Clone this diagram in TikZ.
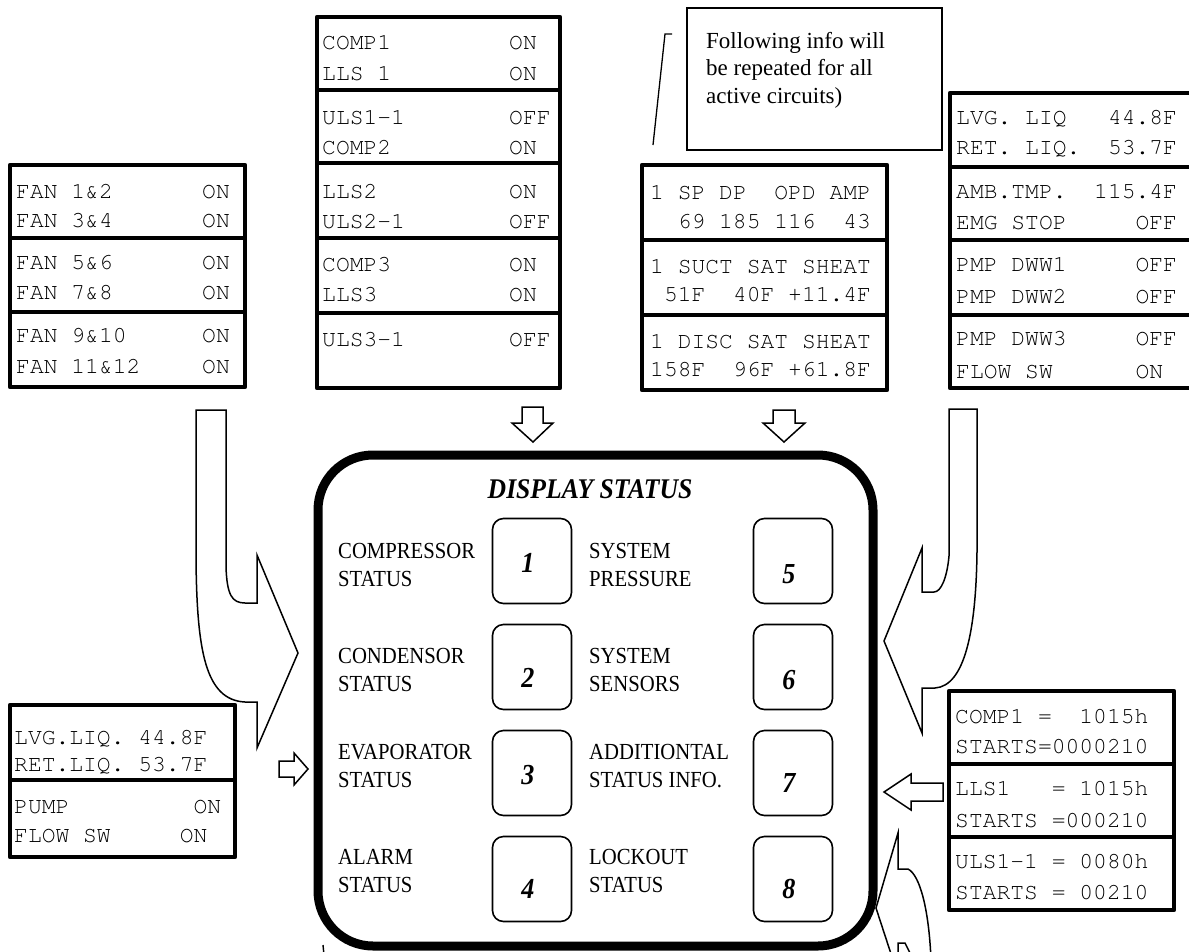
\documentclass[tikz,border=0pt]{standalone}
\usepackage[T1]{fontenc}
\usepackage{fontspec}
\setmainfont{Liberation Serif}
\newfontfamily\keyfont[FakeStretch=0.9]{Liberation Serif}
\newcommand\lcd{\fontencoding{T1}\fontfamily{pcr}\fontsize{23}{28}\selectfont}
\usetikzlibrary{positioning}
\frenchspacing

\tikzset{
  panel/.style={line width=4.5pt, line join=round},
  lcd/.style={anchor=west, inner sep=0pt, text height=13pt, text depth=0pt, font=\lcd},
  keylabel/.style={anchor=west, inner sep=0pt, align=left, font=\keyfont\fontsize{23}{28}\selectfont},
  keybox/.style={draw, line width=1.6pt, rounded corners=11pt, minimum width=79pt, minimum height=85pt, inner sep=0pt},
  keynum/.style={inner sep=0pt, font=\keyfont\bfseries\itshape\fontsize{29}{29}\selectfont},
  hollow/.style={draw, line width=1.5pt, fill=white, line join=miter},
}

\begin{document}
\begin{tikzpicture}[x=1pt, y=-1pt]
  \useasboundingbox (0,0) rectangle (1189,951);
  \clip (0,0) rectangle (1189,951);

  % fan panel
  \draw[panel] (10,165) rectangle (245,387);
  \foreach \y in {238,312} \draw[panel] (10,\y) -- (245,\y);
  \foreach \y/\lab/\st [count=\i] in {192/FAN 1\&2/ON, 221/FAN 3\&4/ON,
      263/FAN 5\&6/ON, 293/FAN 7\&8/ON, 336/FAN 9\&10/ON, 367/FAN 11\&12/ON}{
    \node[lcd] (fan\i) at (16,\y) {\lab};
    \node[lcd] (fanst\i) at (202,\y) {\st};
  }

  % compressor panel
  \draw[panel] (317,17) rectangle (560,388);
  \foreach \y in {90,163,238,313} \draw[panel] (317,\y) -- (560,\y);
  \foreach \y/\lab/\st [count=\i] in {43/COMP1/ON, 74/LLS~1/ON, 118/ULS1-1/OFF,
      148/COMP2/ON, 192/LLS2/ON, 222/ULS2-1/OFF, 265/COMP3/ON, 295/LLS3/ON,
      340/ULS3-1/OFF}{
    \node[lcd] (comp\i) at (322,\y) {\lab};
    \node[lcd] (compst\i) at (509,\y) {\st};
  }

  % note
  \draw[line width=1.2pt] (687,8) rectangle (942,150);
  \node[anchor=north west, align=left, inner sep=0pt, font=\fontsize{23}{27.5}\selectfont]
    (note) at (706,32) {Following info will\\be repeated for all\\active circuits)};
  \draw[line width=1.3pt] (672,34) -- (665,34) -- (653,145);

  % pressure panel
  \draw[panel] (642,165) rectangle (887,390);
  \foreach \y in {240,315} \draw[panel] (642,\y) -- (887,\y);
  \foreach \y/\lab [count=\i] in {193/1~SP~DP~~OPD~AMP, 222/~~69~185~116~~43,
      267/1~SUCT~SAT~SHEAT, 295/~51F~~40F~+11.4F,
      342/1~DISC~SAT~SHEAT, 370/158F~~96F~+61.8F}
    \node[lcd] (press\i) at (650,\y) {\lab};

  % sensor panel
  \draw[panel] (950,93) rectangle (1200,388);
  \foreach \y in {167,240,315} \draw[panel] (950,\y) -- (1200,\y);
  \foreach \y/\lab [count=\i] in {118/LVG.~LIQ~~~44.8F, 148/RET.~LIQ.~~53.7F,
      192/AMB.TMP.~~115.4F, 223/EMG~STOP~~~~~OFF, 265/PMP~DWW1~~~~~OFF,
      297/PMP~DWW2~~~~~OFF, 339/PMP~DWW3~~~~~OFF, 372/FLOW~SW~~~~~~ON}
    \node[lcd] (sens\i) at (956,\y) {\lab};

  % evaporator panel
  \draw[panel] (10,705) rectangle (235,857);
  \draw[panel] (10,780) -- (235,780);
  \foreach \y/\lab [count=\i] in {738/LVG.LIQ.~44.8F, 765/RET.LIQ.~53.7F,
      807/PUMP~~~~~~~~~ON, 836/FLOW~SW~~~~~ON}
    \node[lcd] (evap\i) at (14,\y) {\lab};

  % run hours panel
  \draw[panel] (949,691) rectangle (1174,910);
  \foreach \y in {764,837} \draw[panel] (949,\y) -- (1174,\y);
  \foreach \y/\lab [count=\i] in {717/COMP1~=~~1015h, 747/STARTS=0000210,
      789/LLS1~~~=~1015h, 821/STARTS~=000210, 862/ULS1-1~=~0080h, 893/STARTS~=~00210}
    \node[lcd] (hrs\i) at (955,\y) {\lab};

  % display status
  \draw[line width=9pt, rounded corners=55pt] (318,455) rectangle (873,946);
  \node[inner sep=0pt, font=\keyfont\bfseries\itshape\fontsize{28.5}{30}\selectfont]
    (title) at (590,489) {DISPLAY STATUS};
  \foreach \n/\x/\y in {1/532/561, 2/532/667, 3/532/773, 4/532/879,
      5/793/561, 6/793/667, 7/793/773, 8/793/879}
    \node[keybox] (key\n) at (\x,\y) {};
  \foreach \n/\x/\y in {1/528/563, 2/528/678, 3/528/775, 4/528/889,
      5/789/574, 6/789/680, 7/789/783, 8/789/889}
    \node[keynum] (num\n) at (\x,\y) {\n};
  \foreach \lab/\y [count=\i] in {{COMPRESSOR\\STATUS}/565, {CONDENSOR\\STATUS}/670,
      {EVAPORATOR\\STATUS}/766, {ALARM\\STATUS}/871}
    \node[keylabel] (labl\i) at (338,\y) {\lab};
  \foreach \lab/\y [count=\i] in {{SYSTEM\\PRESSURE}/565, {SYSTEM\\SENSORS}/670,
      {ADDITIONTAL\\STATUS INFO.}/766, {LOCKOUT\\STATUS}/871}
    \node[keylabel] (labr\i) at (589,\y) {\lab};

  % straight arrows
  \draw[hollow] (522,407) -- (543,407) -- (543,423) -- (553,423) -- (533,442)
    -- (512,423) -- (522,423) -- cycle;
  \draw[hollow] (773,410) -- (795,410) -- (795,423) -- (805,423) -- (784,442)
    -- (763,423) -- (773,423) -- cycle;
  \draw[hollow] (279,761) -- (294,761) -- (294,753) -- (308,769) -- (294,785)
    -- (294,777) -- (279,777) -- cycle;
  \draw[hollow] (943,783) -- (911,783) -- (911,774) -- (884,792) -- (911,810)
    -- (911,801) -- (943,801) -- cycle;

  % bent arrows
  \draw[hollow] (196,410) -- (226,410) -- (226,567)
    .. controls (227,595) and (232,603) .. (245,603) -- (257,603) -- (257,555)
    -- (298,653) -- (257,748) -- (257,702) -- (245,702)
    .. controls (205,700) and (197,650) .. (196,560) -- cycle;
  \draw[hollow] (977,409) -- (949,409) -- (949,556)
    .. controls (947,578) and (941,592) .. (934,592) -- (922,592) -- (922,548)
    -- (884,641) -- (922,733) -- (922,688) -- (935,688)
    .. controls (965,686) and (976,630) .. (977,552) -- cycle;
  \draw[line width=1.5pt, line join=miter] (893,960) -- (876,908) -- (898,833)
    -- (898,869) -- (908,869) .. controls (920,875) and (929,910) .. (931,960);
  \draw[line width=1.5pt] (898,955) -- (898,943) -- (905,943) -- (911,955);
  \draw[line width=1.4pt] (323,945) -- (324,955);
\end{tikzpicture}
\end{document}
